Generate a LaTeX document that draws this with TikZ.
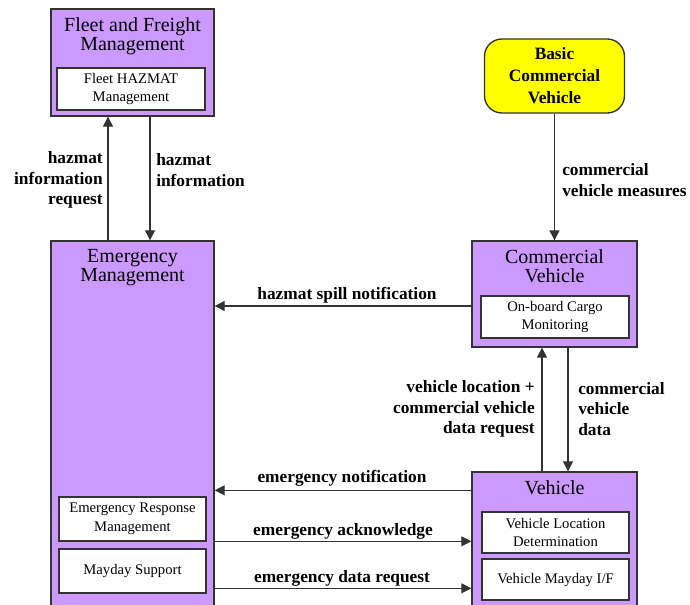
\documentclass[tikz,border=0pt]{standalone}
\usepackage{fontspec}
\setmainfont{Liberation Serif}
\usetikzlibrary{arrows.meta,calc}
\definecolor{boxpurple}{HTML}{CC99FF}
\definecolor{termyellow}{HTML}{FFFF00}
\definecolor{edgegray}{HTML}{333333}

\begin{document}
\begin{tikzpicture}[x=0.75pt,y=-0.75pt,
  sysbox/.style={draw=edgegray,line width=1pt,fill=boxpurple,inner sep=0pt},
  subbox/.style={draw=edgegray,line width=0.9pt,fill=white,inner sep=0pt,align=center,
    minimum width=148*0.75pt,minimum height=42*0.75pt,font=\fontsize{11}{14}\selectfont},
  boxtitle/.style={inner sep=0pt,align=center,font=\fontsize{15}{14.5}\selectfont},
  termbox/.style={draw=edgegray,line width=1pt,fill=termyellow,rounded corners=13pt,
    inner sep=0pt,align=center,font=\bfseries\fontsize{13}{16.5}\selectfont},
  flow/.style={draw=edgegray,line width=0.8pt,-{Triangle[length=7.5pt,width=7.5pt]}},
  flowlabel/.style={inner sep=0pt,font=\bfseries\fontsize{13}{15.5}\selectfont},
]
\useasboundingbox (0,0) rectangle (690,605);
\clip (0,0) rectangle (690,605);

% Fleet and Freight Management
\node[sysbox,minimum width=163*0.75pt,minimum height=107*0.75pt] (ffm) at (132.5,62.5) {};
\node[boxtitle] (ffmt) at (132.5,36) {Fleet and Freight\\Management};
\node[subbox] (ffmh) at (131,89) {Fleet HAZMAT\\Management};

% Emergency Management (runs past the lower edge)
\node[sysbox,minimum width=163*0.75pt,minimum height=379*0.75pt] (em) at (132.5,430.5) {};
\node[boxtitle] (emt) at (132.5,267.5) {Emergency\\Management};
\node[subbox,minimum width=147*0.75pt,minimum height=44*0.75pt] (erm) at (132.5,519) {Emergency Response\\Management};
\node[subbox,minimum width=147*0.75pt,minimum height=44*0.75pt] (mds) at (132.5,571) {Mayday Support};

% Basic Commercial Vehicle terminator
\node[termbox,minimum width=140*0.75pt,minimum height=74*0.75pt] (bcv) at (554.5,76) {Basic\\Commercial\\Vehicle};

% Commercial Vehicle
\node[sysbox,minimum width=165*0.75pt,minimum height=106*0.75pt] (cv) at (554.5,294) {};
\node[boxtitle] (cvt) at (554.5,266) {Commercial\\Vehicle};
\node[subbox] (ocm) at (555,317) {On-board Cargo\\Monitoring};

% Vehicle (runs past the lower edge)
\node[sysbox,minimum width=165*0.75pt,minimum height=148*0.75pt] (veh) at (554.5,546) {};
\node[boxtitle] (veht) at (554.5,488) {Vehicle};
\node[subbox,minimum width=147*0.75pt,minimum height=41*0.75pt] (vld) at (555.5,532.5) {Vehicle Location\\Determination};
\node[subbox,minimum width=147*0.75pt,minimum height=41*0.75pt] (vmi) at (555.5,579.5) {Vehicle Mayday I/F};

% Flows between Emergency Management and Fleet and Freight Management
\draw[flow] ($(em.north)+(-24.5,0)$) coordinate (hreq) -- (hreq |- ffm.south);
\draw[flow] ($(ffm.south)+(17.5,0)$) coordinate (hinf) -- (hinf |- em.north);
\node[flowlabel,align=right,anchor=east] (lhreq) at (103,180) {hazmat\\information\\request};
\node[flowlabel,align=left,anchor=west] (lhinf) at (156,170) {hazmat\\information};

% Basic Commercial Vehicle to Commercial Vehicle
\draw[flow] (bcv.south) -- (bcv.south |- cv.north);
\node[flowlabel,align=left,anchor=west] (lcvm) at (562,180) {commercial\\vehicle measures};

% Commercial Vehicle to Emergency Management
\draw[flow] ($(cv.west)+(0,12)$) coordinate (hsp) -- (hsp -| em.east);
\node[flowlabel] (lhsp) at (347,295) {hazmat spill notification};

% Commercial Vehicle and Vehicle
\draw[flow] ($(veh.north)+(-12.5,0)$) coordinate (vup) -- (vup |- cv.south);
\draw[flow] ($(cv.south)+(13.5,0)$) coordinate (vdn) -- (vdn |- veh.north);
\node[flowlabel,align=right,anchor=east] (lvup) at (535,409) {vehicle location +\\commercial vehicle\\data request};
\node[flowlabel,align=left,anchor=west] (lvdn) at (578,409) {commercial\\vehicle\\data};

% Vehicle and Emergency Management
\draw[flow] ($(veh.north west)+(0,19)$) coordinate (enot) -- (enot -| em.east);
\coordinate (eack) at ($(veh.north west)+(0,70)$);
\draw[flow] (eack -| em.east) -- (eack);
\coordinate (edrq) at ($(veh.north west)+(0,117)$);
\draw[flow] (edrq -| em.east) -- (edrq);
\node[flowlabel] (lenot) at (342,478) {emergency notification};
\node[flowlabel] (leack) at (343,531) {emergency acknowledge};
\node[flowlabel] (ledrq) at (342,578) {emergency data request};
\end{tikzpicture}
\end{document}
